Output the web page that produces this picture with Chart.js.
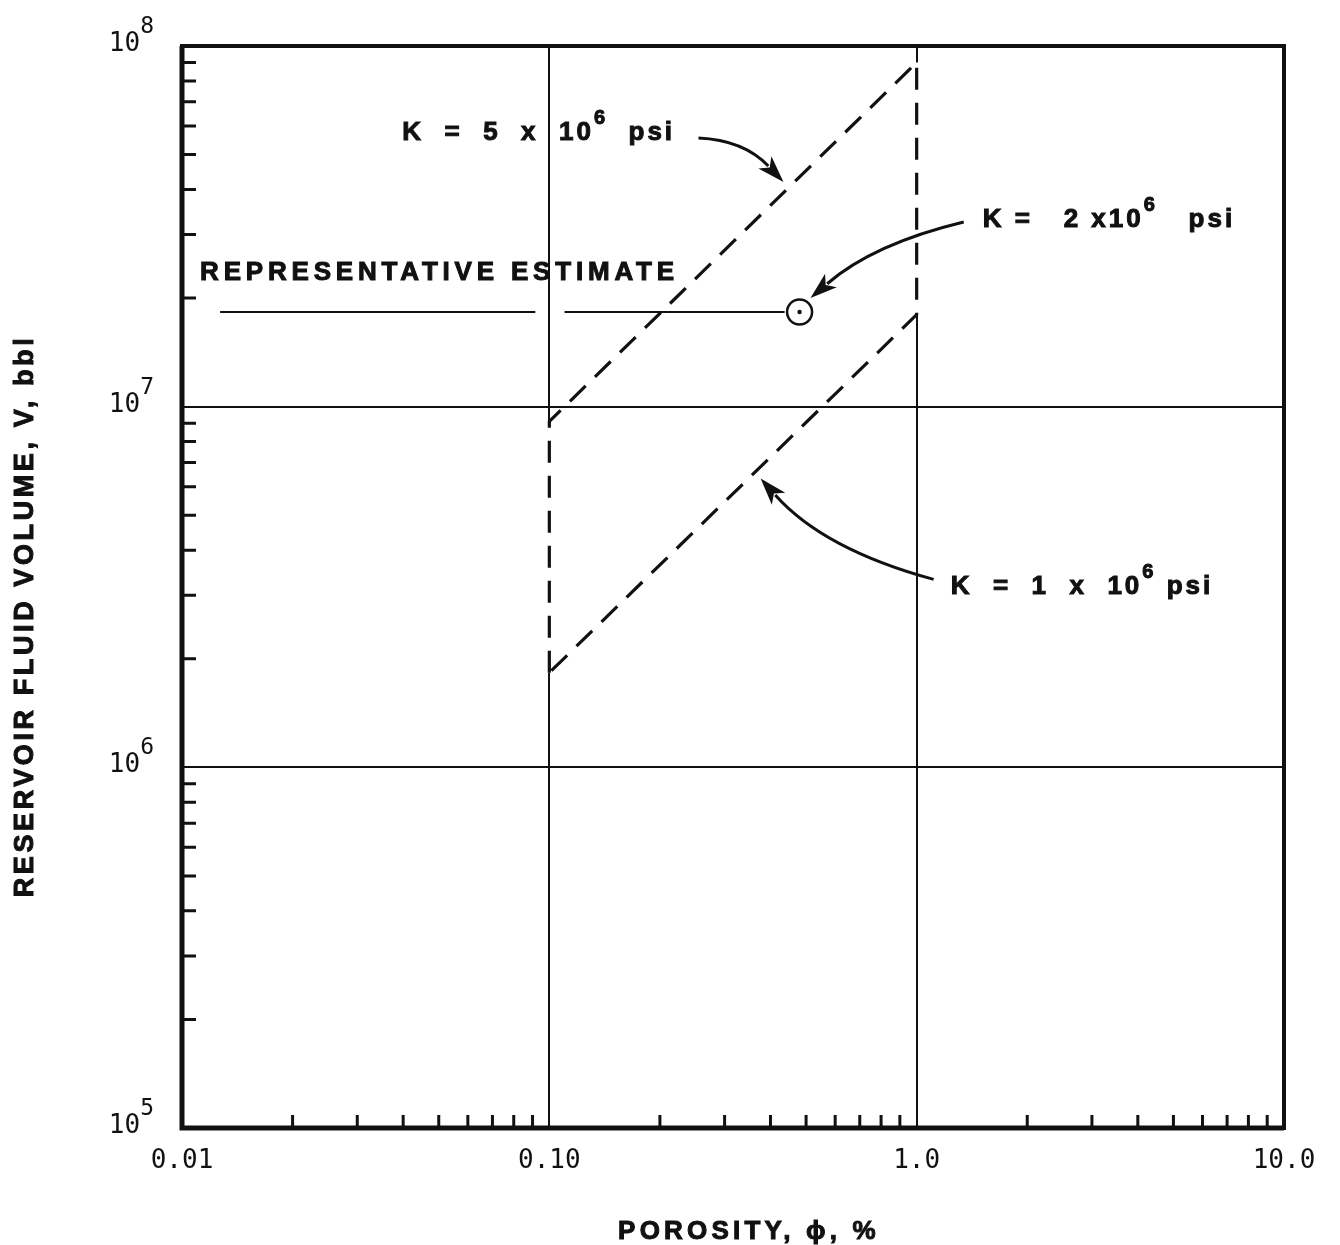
<!DOCTYPE html>
<html>
<head>
<meta charset="utf-8">
<script src="https://cdn.jsdelivr.net/npm/chart.js@4.4.0/dist/chart.umd.min.js"></script>
<style>
  html, body { margin: 0; padding: 0; background: #fff; }
</style>
</head>
<body>
<canvas id="volumeChart" width="1340" height="1245"></canvas>
<script>
// values: porosity in %, reservoir fluid volume in bbl
const porosityEnds = [0.1, 1.0];
const volumeK1 = [1.83e6, 1.8e7];   // K = 1 x 10^6 psi
const volumeK5 = [9.1e6, 9.0e7];    // K = 5 x 10^6 psi
const estimatePorosity = [0.48];
const estimateVolume = [1.83e7];    // K = 2 x 10^6 psi
const estimateLineLeft = [0.0127, 0.0916];
const estimateLineRight = [0.110, 0.437];

const xTicks = [0.01, 0.1, 1, 10];
const xTickLabels = ['0.01', '0.10', '1.0', '10.0'];
const yTicks = [1e5, 1e6, 1e7, 1e8];
const yTickExps = ['5', '6', '7', '8'];

// callouts, anchored in data units
const callouts = [
  { x: 0.0398, y: 5.74e7, text: 'K  =  5  x  10', sup: '6', tail: '  psi' },
  { x: 1.514, y: 3.3e7, text: 'K =   2 x10', sup: '6', tail: '   psi' },
  { x: 1.238, y: 3.17e6, text: 'K  =  1  x  10', sup: '6', tail: ' psi' },
  { x: 0.0112, y: 2.35e7, text: 'REPRESENTATIVE ESTIMATE', sup: '', tail: '' }
];
const arrows = [
  { from: [0.2547, 5.56e7], ctrl: [0.3378, 5.49e7], to: [0.434, 4.2e7] },
  { from: [1.343, 3.25e7], ctrl: [0.764, 2.83e7], to: [0.514, 2.0e7] },
  { from: [1.112, 3.32e6], ctrl: [0.558, 4.02e6], to: [0.376, 6.32e6] }
];

const pts = (xs, ys) => xs.map((x, i) => ({ x: x, y: ys[i] }));

const envelope = [
  { x: porosityEnds[0], y: volumeK1[0] },
  { x: porosityEnds[0], y: volumeK5[0] },
  { x: porosityEnds[1], y: volumeK5[1] },
  { x: porosityEnds[1], y: volumeK1[1] },
  { x: porosityEnds[0], y: volumeK1[0] }
];

const INK = '#111';

// heavy lettering: fill and a thin stroke on top
function boldText(ctx, s, x, y) {
  ctx.fillText(s, x, y);
  ctx.strokeText(s, x, y);
}

const decorPlugin = {
  id: 'decor',
  afterDatasetsDraw(chart) {
    const { ctx, chartArea: a, scales } = chart;
    const px = v => scales.x.getPixelForValue(v);
    const py = v => scales.y.getPixelForValue(v);
    ctx.save();
    ctx.strokeStyle = INK;
    ctx.fillStyle = INK;

    // frame
    ctx.lineWidth = 4;
    ctx.strokeRect(a.left, a.top, a.right - a.left, a.bottom - a.top);
    ctx.lineWidth = 5;
    ctx.beginPath();
    ctx.moveTo(a.left, a.top);
    ctx.lineTo(a.left, a.bottom);
    ctx.lineTo(a.right, a.bottom);
    ctx.stroke();

    // minor ticks, pointing inward
    ctx.lineWidth = 3;
    ctx.beginPath();
    for (let d = 0.01; d < 10; d *= 10) {
      for (let m = 2; m <= 9; m++) {
        const x = px(m * d);
        ctx.moveTo(x, a.bottom);
        ctx.lineTo(x, a.bottom - 13);
      }
    }
    for (let d = 1e5; d < 1e8; d *= 10) {
      for (let m = 2; m <= 9; m++) {
        const y = py(m * d);
        ctx.moveTo(a.left, y);
        ctx.lineTo(a.left + 14, y);
      }
    }
    ctx.stroke();

    // y tick labels 10^n
    ctx.textBaseline = 'alphabetic';
    yTicks.forEach((v, i) => {
      const y = py(v) + 5;
      ctx.font = '23px "DejaVu Sans Mono"';
      const ew = ctx.measureText(yTickExps[i]).width;
      const right = a.left - 28;
      ctx.textAlign = 'left';
      ctx.fillText(yTickExps[i], right - ew, y - 18);
      ctx.font = '26px "DejaVu Sans Mono"';
      ctx.textAlign = 'right';
      ctx.fillText('10', right - ew, y);
    });

    // callout texts
    ctx.textAlign = 'left';
    ctx.textBaseline = 'middle';
    ctx.lineWidth = 1;
    callouts.forEach(c => {
      let x = px(c.x);
      const y = py(c.y);
      ctx.font = 'bold 26px "Liberation Sans"';
      ctx.letterSpacing = c.sup ? '3px' : '4.8px';
      boldText(ctx, c.text, x, y);
      x += ctx.measureText(c.text).width;
      if (c.sup) {
        ctx.font = 'bold 20px "Liberation Sans"';
        boldText(ctx, c.sup, x, y - 14);
        x += ctx.measureText(c.sup).width;
        ctx.font = 'bold 26px "Liberation Sans"';
        boldText(ctx, c.tail, x, y);
      }
    });
    ctx.letterSpacing = '0px';

    // curved arrows
    arrows.forEach(ar => {
      const p0 = [px(ar.from[0]), py(ar.from[1])];
      const c = [px(ar.ctrl[0]), py(ar.ctrl[1])];
      const p2 = [px(ar.to[0]), py(ar.to[1])];
      const dx = p2[0] - c[0], dy = p2[1] - c[1];
      const len = Math.hypot(dx, dy);
      const ux = dx / len, uy = dy / len;
      const headLen = 27, headHalf = 9;
      const bx = p2[0] - ux * headLen, by = p2[1] - uy * headLen;
      ctx.lineWidth = 3;
      ctx.beginPath();
      ctx.moveTo(p0[0], p0[1]);
      ctx.quadraticCurveTo(c[0], c[1], bx + ux * 5, by + uy * 5);
      ctx.stroke();
      ctx.beginPath();
      ctx.moveTo(p2[0], p2[1]);
      ctx.lineTo(bx - uy * headHalf, by + ux * headHalf);
      ctx.lineTo(bx + ux * 7, by + uy * 7);
      ctx.lineTo(bx + uy * headHalf, by - ux * headHalf);
      ctx.closePath();
      ctx.fill();
    });

    // axis titles
    ctx.lineWidth = 1;
    ctx.font = 'bold 26px "Liberation Sans"';
    ctx.letterSpacing = '4.2px';
    ctx.textAlign = 'center';
    ctx.textBaseline = 'middle';
    boldText(ctx, 'POROSITY, \u03D5, %', (a.left + a.right) / 2 + 16, a.bottom + 104);
    ctx.save();
    ctx.translate(a.left - 156, (a.top + a.bottom) / 2 + 29);
    ctx.rotate(-Math.PI / 2);
    ctx.font = 'bold 27px "Liberation Sans"';
    ctx.letterSpacing = '3.6px';
    boldText(ctx, 'RESERVOIR FLUID VOLUME, V, bbl', 0, 0);
    ctx.restore();

    ctx.restore();
  }
};

const lineBase = { showLine: true, pointRadius: 0, fill: false, tension: 0 };

new Chart(document.getElementById('volumeChart'), {
  type: 'scatter',
  data: {
    datasets: [
      Object.assign({}, lineBase, {
        label: 'grid gap 0.10',
        data: pts([porosityEnds[0], porosityEnds[0]], [volumeK1[0], volumeK5[0]]),
        borderColor: '#fff', borderWidth: 5, order: 6
      }),
      Object.assign({}, lineBase, {
        label: 'grid gap 1.0',
        data: pts([porosityEnds[1], porosityEnds[1]], [volumeK1[1], volumeK5[1]]),
        borderColor: '#fff', borderWidth: 5, order: 6
      }),
      Object.assign({}, lineBase, {
        label: 'K envelope',
        data: envelope,
        borderColor: INK, borderWidth: 3.2, borderDash: [22, 13],
        borderJoinStyle: 'miter', order: 5
      }),
      Object.assign({}, lineBase, {
        label: 'estimate left',
        data: pts(estimateLineLeft, [estimateVolume[0], estimateVolume[0]]),
        borderColor: INK, borderWidth: 2, order: 4
      }),
      Object.assign({}, lineBase, {
        label: 'estimate right',
        data: pts(estimateLineRight, [estimateVolume[0], estimateVolume[0]]),
        borderColor: INK, borderWidth: 2, order: 4
      }),
      {
        label: 'K = 2 x 10^6 psi',
        data: pts(estimatePorosity, estimateVolume),
        pointRadius: 12.5, pointBorderWidth: 2.5,
        pointBorderColor: INK, pointBackgroundColor: '#fff', order: 2
      },
      {
        label: 'estimate centre',
        data: pts(estimatePorosity, estimateVolume),
        pointRadius: 2.2, pointBorderWidth: 0,
        pointBackgroundColor: INK, order: 1
      }
    ]
  },
  options: {
    responsive: false,
    animation: false,
    devicePixelRatio: 1,
    layout: { padding: { top: 46, right: 56, left: 0, bottom: 0 } },
    plugins: { legend: { display: false }, tooltip: { enabled: false } },
    scales: {
      x: {
        type: 'logarithmic',
        min: 0.01,
        max: 10,
        afterBuildTicks: s => { s.ticks = xTicks.map(v => ({ value: v })); },
        afterFit: s => { s.height = 117; },
        border: { display: false },
        grid: { color: INK, lineWidth: 2, drawTicks: false },
        ticks: {
          autoSkip: false,
          maxRotation: 0,
          padding: 18,
          color: INK,
          font: { family: 'DejaVu Sans Mono', size: 26 },
          callback: v => xTickLabels[xTicks.indexOf(v)]
        }
      },
      y: {
        type: 'logarithmic',
        min: 1e5,
        max: 1e8,
        afterBuildTicks: s => { s.ticks = yTicks.map(v => ({ value: v })); },
        afterFit: s => { s.width = 182; },
        border: { display: false },
        grid: { color: INK, lineWidth: 2, drawTicks: false },
        ticks: { display: false }
      }
    }
  },
  plugins: [decorPlugin]
});
</script>
</body>
</html>
